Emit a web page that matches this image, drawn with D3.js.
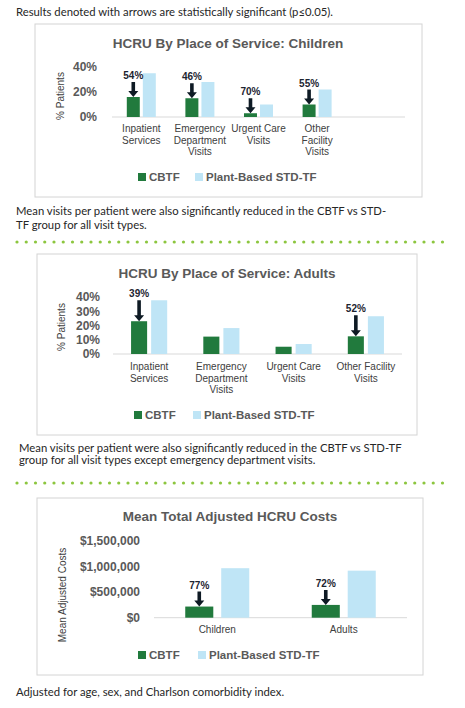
<!DOCTYPE html>
<html>
<head>
<meta charset="utf-8">
<script src="https://cdn.jsdelivr.net/npm/d3@7"></script>
<style>
  body { margin: 0; background: #fff; }
  svg { display: block; }
</style>
</head>
<body>
<svg id="chart" width="465" height="708"></svg>
<script>
// series names
const seriesNames = ["CBTF", "Plant-Based STD-TF"];

// children - % patients
const childCats = ["Inpatient\nServices", "Emergency\nDepartment\nVisits", "Urgent Care\nVisits", "Other\nFacility\nVisits"];
const childCBTF = [16, 15, 3, 10];
const childSTD = [35, 28, 10, 22];
const childReduction = ["54%", "46%", "70%", "55%"];
const childTicks = [0, 20, 40];

// adults - % patients
const adultCats = ["Inpatient\nServices", "Emergency\nDepartment\nVisits", "Urgent Care\nVisits", "Other Facility\nVisits"];
const adultCBTF = [23, 12.2, 5.1, 12.4];
const adultSTD = [37.7, 18.2, 7, 26.5];
const adultReduction = ["39%", null, null, "52%"];
const adultTicks = [0, 10, 20, 30, 40];

// mean total adjusted costs
const costCats = ["Children", "Adults"];
const costCBTF = [218000, 250000];
const costSTD = [968000, 920000];
const costReduction = ["77%", "72%"];
const costTicks = [0, 500000, 1000000, 1500000];

const colors = ["#217a3d", "#bfe5f6"];
const chartFont = "'Liberation Sans', Arial, sans-serif";
const bodyFont = "Lato, 'Open Sans', sans-serif";

const svg = d3.select("#chart");

function drawPanel(o) {
    const g = svg.append("g");

    g.append("rect")
        .attr("x", o.box[0]).attr("y", o.box[1])
        .attr("width", o.box[2]).attr("height", o.box[3])
        .attr("fill", "#fff")
        .attr("stroke", "#d4d4d4")
        .attr("stroke-width", 1);

    g.append("text")
        .attr("x", o.titleX).attr("y", o.titleY)
        .attr("text-anchor", "middle")
        .style("font-family", chartFont)
        .style("font-size", "13.5px")
        .style("font-weight", "bold")
        .style("fill", "#595959")
        .text(o.title);

    const slots = o.cats.map((c, i) => "c" + i);
    for (let k = 0; k < o.emptySlots; k++) slots.push("e" + k);

    const x0 = d3.scaleBand()
        .domain(slots)
        .range([o.plotX0, o.plotX1])
        .paddingInner(o.pad)
        .paddingOuter(o.pad / 2);

    const x1 = d3.scaleBand()
        .domain(seriesNames)
        .range([0, x0.bandwidth()])
        .paddingInner(o.barGap);

    const y = d3.scaleLinear()
        .domain([0, d3.max(o.ticks)])
        .range([o.yBase, o.yTop]);

    // y axis labels
    const yAxis = g.append("g")
        .attr("transform", `translate(${o.plotX0},0)`)
        .call(d3.axisLeft(y).tickValues(o.ticks).tickSize(0).tickPadding(o.tickPad).tickFormat(o.fmt));
    yAxis.select(".domain").remove();
    yAxis.selectAll("text")
        .style("font-family", chartFont)
        .style("font-size", o.tickFont)
        .style("font-weight", "bold")
        .style("fill", "#595959");

    // baseline
    g.append("line")
        .attr("x1", o.plotX0).attr("x2", o.plotX1)
        .attr("y1", y(0)).attr("y2", y(0))
        .attr("stroke", "#d9d9d9")
        .attr("stroke-width", 1);

    // y title
    g.append("text")
        .attr("transform", `translate(${o.yTitleX},${o.yTitleY}) rotate(-90)`)
        .attr("text-anchor", "middle")
        .style("font-family", chartFont)
        .style("font-size", "10px")
        .style("fill", "#404040")
        .text(o.yTitle);

    // bars
    const rows = o.cats.map((c, i) => ({
        key: "c" + i,
        vals: [o.a[i], o.b[i]],
        note: o.notes[i]
    }));

    const grp = g.selectAll("g.cat")
        .data(rows)
      .enter().append("g")
        .attr("class", "cat")
        .attr("transform", d => `translate(${x0(d.key)},0)`);

    grp.selectAll("rect")
        .data(d => d.vals.map((v, j) => ({ s: seriesNames[j], v: v, j: j })))
      .enter().append("rect")
        .attr("x", d => x1(d.s))
        .attr("y", d => y(d.v))
        .attr("width", x1.bandwidth())
        .attr("height", d => y(0) - y(d.v))
        .attr("fill", d => colors[d.j]);

    // arrows with reduction labels
    const noted = grp.filter(d => d.note);
    noted.each(function(d) {
        const cx = x1(seriesNames[0]) + x1.bandwidth() / 2;
        const top = y(d.vals[0]);
        const len = o.arrowLen;
        const a = d3.select(this);
        const path = d3.path();
        path.moveTo(cx - 1.8, top - len);
        path.lineTo(cx + 1.8, top - len);
        path.lineTo(cx + 1.8, top - 6);
        path.lineTo(cx + 5, top - 6);
        path.lineTo(cx, top);
        path.lineTo(cx - 5, top - 6);
        path.lineTo(cx - 1.8, top - 6);
        path.closePath();
        a.append("path")
            .attr("d", path.toString())
            .attr("fill", "#0e1a24");
        a.append("text")
            .attr("x", cx)
            .attr("y", top - len - 3)
            .attr("text-anchor", "middle")
            .style("font-family", chartFont)
            .style("font-size", "10px")
            .style("font-weight", "bold")
            .style("fill", "#1c2430")
            .text(d.note);
    });

    // category labels
    const catText = g.selectAll("text.catlab")
        .data(rows)
      .enter().append("text")
        .attr("class", "catlab")
        .attr("text-anchor", "middle")
        .style("font-family", chartFont)
        .style("font-size", "10px")
        .style("fill", "#404040");
    catText.each(function(d, i) {
        const t = d3.select(this);
        o.cats[i].split("\n").forEach((line, k) => {
            t.append("tspan")
                .attr("x", x0(d.key) + x0.bandwidth() / 2)
                .attr("y", o.catY + k * 11.7)
                .text(line);
        });
    });

    // legend
    seriesNames.forEach((s, j) => {
        g.append("rect")
            .attr("x", o.legX[j]).attr("y", o.legY - 4)
            .attr("width", 8).attr("height", 8)
            .attr("fill", colors[j]);
        g.append("text")
            .attr("x", o.legX[j] + 11).attr("y", o.legY + 4)
            .style("font-family", chartFont)
            .style("font-size", "11.5px")
            .style("font-weight", "bold")
            .style("fill", "#595959")
            .text(s);
    });
}

function bodyText(lines, x, y0, lh) {
    const t = svg.append("text")
        .style("font-family", bodyFont)
        .style("font-size", "11.3px")
        .style("fill", "#262626");
    lines.forEach((l, i) => {
        t.append("tspan").attr("x", x).attr("y", y0 + i * lh).text(l);
    });
}

function dots(yPos) {
    const xs = d3.range(17, 447, 9.25);
    svg.append("g").selectAll("circle")
        .data(xs)
      .enter().append("circle")
        .attr("cx", d => d)
        .attr("cy", yPos)
        .attr("r", 1.6)
        .attr("fill", "#8cc63f");
}

bodyText(["Results denoted with arrows are statistically significant (p\u22640.05)."], 16, 16, 14);

drawPanel({
    box: [35, 24, 387, 173],
    title: "HCRU By Place of Service: Children", titleX: 228, titleY: 48,
    cats: childCats, a: childCBTF, b: childSTD, notes: childReduction, emptySlots: 1,
    ticks: childTicks, fmt: d => d + "%", tickFont: "12px", tickPad: 15,
    plotX0: 112, plotX1: 405, yTop: 67, yBase: 117,
    pad: 0.505, barGap: 0.19, arrowLen: 15,
    yTitle: "% Patients", yTitleX: 64, yTitleY: 96,
    catY: 132, legX: [138, 195], legY: 177
});

bodyText(["Mean visits per patient were also significantly reduced in the CBTF vs STD-",
          "TF group for all visit types."], 16, 215, 14);

dots(242);

drawPanel({
    box: [37, 254, 380, 181],
    title: "HCRU By Place of Service: Adults", titleX: 227, titleY: 278,
    cats: adultCats, a: adultCBTF, b: adultSTD, notes: adultReduction, emptySlots: 0,
    ticks: adultTicks, fmt: d => d + "%", tickFont: "12px", tickPad: 13,
    plotX0: 113, plotX1: 402, yTop: 297, yBase: 354,
    pad: 0.5, barGap: 0.2, arrowLen: 21,
    yTitle: "% Patients", yTitleX: 65, yTitleY: 327,
    catY: 370, legX: [134, 193], legY: 415
});

bodyText(["Mean visits per patient were also significantly reduced in the CBTF vs STD-TF",
          "group for all visit types except emergency department visits."], 19, 452, 12);

dots(483);

drawPanel({
    box: [37, 498, 386, 177],
    title: "Mean Total Adjusted HCRU Costs", titleX: 230, titleY: 521,
    cats: costCats, a: costCBTF, b: costSTD, notes: costReduction, emptySlots: 0,
    ticks: costTicks, fmt: d => "$" + d3.format(",")(d), tickFont: "12px", tickPad: 14,
    plotX0: 154, plotX1: 407, yTop: 541, yBase: 617.7,
    pad: 0.494, barGap: 0.22, arrowLen: 15,
    yTitle: "Mean Adjusted Costs", yTitleX: 66, yTitleY: 595,
    catY: 633, legX: [138, 198], legY: 655
});

bodyText(["Adjusted for age, sex, and Charlson comorbidity index."], 16, 696, 14);
</script>
</body>
</html>
